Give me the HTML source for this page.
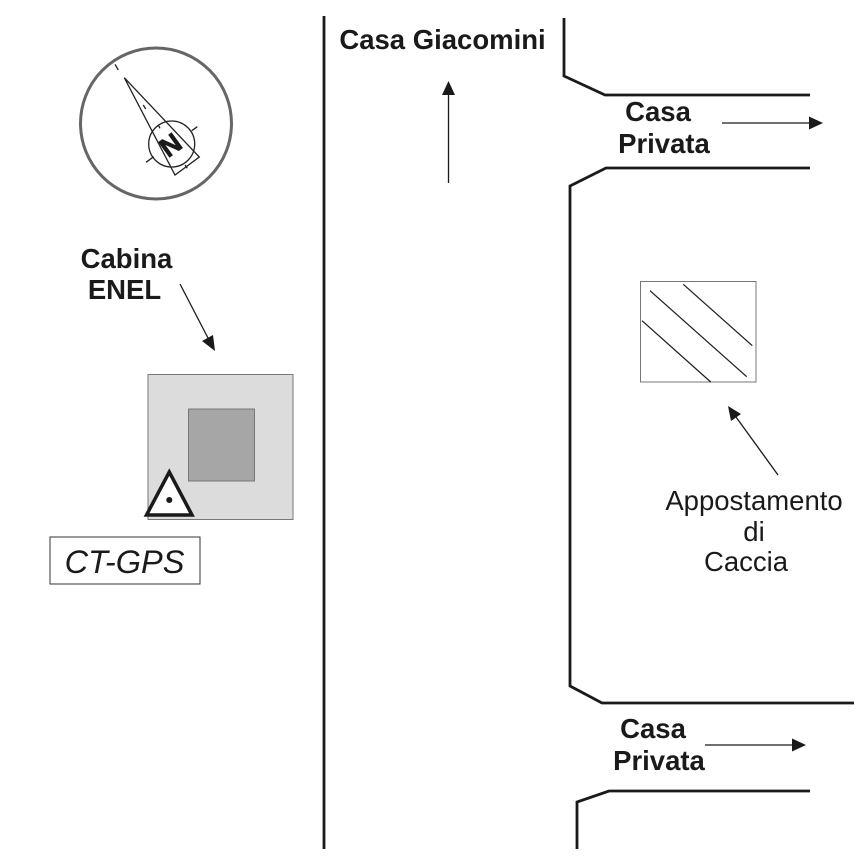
<!DOCTYPE html>
<html>
<head>
<meta charset="utf-8">
<style>
html,body{margin:0;padding:0;background:#fff;}
svg{display:block;}
text{font-family:"Liberation Sans",sans-serif;fill:#1a1a1a;}
.b{font-weight:bold;font-size:27.5px;}
.r{font-size:27.5px;}
</style>
</head>
<body>
<svg width="866" height="866" viewBox="0 0 866 866" xmlns="http://www.w3.org/2000/svg">
<rect width="866" height="866" fill="#fff"/>
<g fill="none" stroke="#1a1a1a" stroke-width="2.800">
<path d="M324 16V849"/>
<path d="M564 18V76L605 95H810"/>
<path d="M810 168H606L570 186V686L602 703H854"/>
<path d="M810 791H609L577 802V849"/>
</g>
<circle cx="156" cy="123.500" r="75.500" fill="none" stroke="#666" stroke-width="3"/>
<g fill="none" stroke="#222" stroke-width="1.300">
<path d="M124.300 77.700L175 175L199.300 157Z"/>
<circle cx="171.700" cy="144" r="23"/>
<path d="M146 162.300L153.700 156.700M191.700 130.700L197.300 126.700M158.300 125L160 128.300M185 165L187.300 168.300M115 64.300L118.300 70M143.300 105L145.700 109"/>
</g>
<text x="0" y="0" text-anchor="middle" transform="translate(176,152.500) rotate(-36)" style="font-size:27px;font-weight:bold;stroke:#1a1a1a;stroke-width:0.800">N</text>
<rect x="148" y="374.500" width="145" height="145" fill="#dcdcdc" stroke="#777" stroke-width="1"/>
<rect x="188.500" y="409" width="66" height="72" fill="#a6a6a6" stroke="#777" stroke-width="1"/>
<path d="M169.300 472L146.500 515H192Z" fill="#fff" stroke="#1a1a1a" stroke-width="3.500"/>
<circle cx="169.300" cy="500" r="3" fill="#1a1a1a"/>
<rect x="50" y="537" width="150" height="47" fill="#fff" stroke="#333" stroke-width="1"/>
<text x="124.500" y="573" text-anchor="middle" style="font-size:32.500px;font-style:italic">CT-GPS</text>
<rect x="640.500" y="281.500" width="115.500" height="100.500" fill="#fff" stroke="#777" stroke-width="1"/>
<g stroke="#222" stroke-width="1.300" fill="none">
<path d="M683.300 284.300L752.300 345.700M650 290.700L746.700 376.700M642 320.700L710.700 382"/>
</g>
<g stroke="#1a1a1a" stroke-width="1.300" fill="#1a1a1a">
<path d="M448.500 183V94" fill="none"/>
<path d="M448.500 81L442 95H455Z" stroke="none"/>
<path d="M722 123H810" fill="none"/>
<path d="M823 123L809 116.500V129.500Z" stroke="none"/>
<path d="M705 745H793" fill="none"/>
<path d="M806 745L792 738.500V751.500Z" stroke="none"/>
<path d="M180 284L208 338" fill="none"/>
<path d="M215 351L202 341L213 335Z" stroke="none"/>
<path d="M778 475L736 417" fill="none"/>
<path d="M728 406L741 414L731 421Z" stroke="none"/>
</g>
<text class="b" x="442.500" y="49" text-anchor="middle">Casa Giacomini</text>
<text class="b" x="658" y="121" text-anchor="middle">Casa</text>
<text class="b" x="664" y="153" text-anchor="middle">Privata</text>
<text class="b" x="126.500" y="268" text-anchor="middle">Cabina</text>
<text class="b" x="124.500" y="299" text-anchor="middle">ENEL</text>
<text class="r" x="754" y="510" text-anchor="middle">Appostamento</text>
<text class="r" x="754" y="541" text-anchor="middle">di</text>
<text class="r" x="746" y="571" text-anchor="middle">Caccia</text>
<text class="b" x="653" y="738" text-anchor="middle">Casa</text>
<text class="b" x="659" y="770" text-anchor="middle">Privata</text>
</svg>
</body>
</html>
